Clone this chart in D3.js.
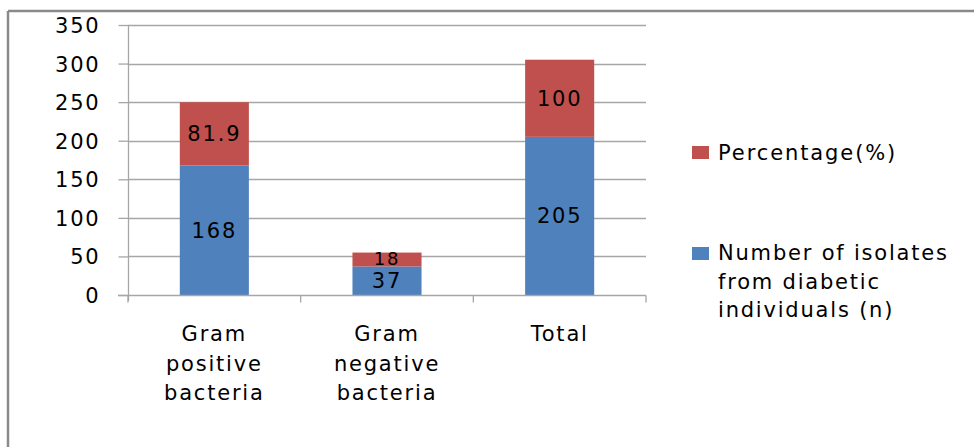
<!DOCTYPE html>
<html><head><meta charset="utf-8">
<script src="https://cdn.jsdelivr.net/npm/d3@7/dist/d3.min.js"></script>
<style>
html,body{margin:0;padding:0;background:#fff;}
svg text{font-family:"DejaVu Sans",sans-serif;fill:#000;}
</style></head>
<body>
<svg id="chart" width="974" height="447"></svg>
<script>
const categories = [["Gram","positive","bacteria"],["Gram","negative","bacteria"],["Total"]];
const numberIsolates = [168, 37, 205];
const percentage = [81.9, 18, 100];
const percentageLabels = ["81.9", "18", "100"];
const numberLabels = ["168", "37", "205"];
const yTicks = [0, 50, 100, 150, 200, 250, 300, 350];
const seriesNames = ["Percentage(%)", ["Number of isolates","from diabetic","individuals (n)"]];

(function(){
const svg = d3.select("#chart");
const pLeft = 128, pRight = 646, pTop = 25, pBottom = 295;
const x = d3.scaleBand().domain(d3.range(categories.length)).range([pLeft, pRight]).paddingInner(0.6).paddingOuter(0.3);
const y = d3.scaleLinear().domain([0, 350]).range([pBottom, pTop]);

// frame
svg.append("line").attr("x1",8).attr("x2",974).attr("y1",11).attr("y2",11).attr("stroke","#8a8a8a").attr("stroke-width",2.5);
svg.append("line").attr("x1",8).attr("x2",8).attr("y1",11).attr("y2",447).attr("stroke","#8a8a8a").attr("stroke-width",2.5);

// gridlines
svg.append("g").selectAll("line").data(yTicks.filter(d=>d>0)).join("line")
  .attr("x1",pLeft).attr("x2",pRight).attr("y1",d=>Math.round(y(d))+0.5).attr("y2",d=>Math.round(y(d))+0.5)
  .attr("stroke","#a6a6a6").attr("stroke-width",1.3);

// y axis
const yAxis = svg.append("g").attr("transform",`translate(${pLeft+0.5},0)`)
  .call(d3.axisLeft(y).tickValues(yTicks).tickSize(10).tickPadding(18).tickFormat(d3.format("d")));
yAxis.select(".domain").attr("stroke","#a6a6a6").attr("stroke-width",1.3).attr("d",`M0,${pTop}V${pBottom+6}`);
yAxis.selectAll(".tick line").attr("stroke","#a6a6a6").attr("stroke-width",1.3);
yAxis.selectAll(".tick text").attr("font-size",21).attr("letter-spacing","1.8px").attr("font-family","DejaVu Sans").attr("fill","#000").attr("dy","0.36em");

// bars
const g = svg.append("g");
g.selectAll("rect.num").data(numberIsolates).join("rect").attr("class","num")
  .attr("x",(d,i)=>x(i)).attr("width",x.bandwidth())
  .attr("y",d=>y(d)).attr("height",d=>y(0)-y(d)).attr("fill","#4F81BD");
g.selectAll("rect.pct").data(percentage).join("rect").attr("class","pct")
  .attr("x",(d,i)=>x(i)).attr("width",x.bandwidth())
  .attr("y",(d,i)=>y(numberIsolates[i]+d)).attr("height",(d,i)=>y(numberIsolates[i])-y(numberIsolates[i]+d)).attr("fill","#C0504D");

// x axis
const xAxisG = svg.append("g").attr("transform",`translate(0,${pBottom+0.5})`);
xAxisG.append("line").attr("x1",pLeft-10).attr("x2",pRight).attr("stroke","#a6a6a6").attr("stroke-width",1.3);
const step = (pRight - pLeft) / categories.length;
const tickPos = d3.range(categories.length+1).map(i => pLeft + i*step);
xAxisG.selectAll("line.t").data(tickPos).join("line").attr("class","t")
  .attr("x1",d=>d).attr("x2",d=>d).attr("y1",0).attr("y2",7).attr("stroke","#a6a6a6").attr("stroke-width",1.3);

// bar labels (slightly smaller where the segments are short)
const fs = h => h < 25 ? 18 : 21;
g.selectAll("text.nl").data(numberIsolates).join("text").attr("class","nl")
  .attr("x",(d,i)=>x(i)+x.bandwidth()/2).attr("y",d=>(y(0)+y(d))/2 + (y(0)-y(d) < 25 ? 1 : 0)).attr("dy","0.36em")
  .attr("text-anchor","middle").attr("font-size",d=>fs(y(0)-y(d))).attr("letter-spacing","1.8px")
  .text((d,i)=>numberLabels[i]);
g.selectAll("text.pl").data(percentage).join("text").attr("class","pl")
  .attr("x",(d,i)=>x(i)+x.bandwidth()/2)
  .attr("y",(d,i)=>{const h=y(numberIsolates[i])-y(numberIsolates[i]+d); return (y(numberIsolates[i])+y(numberIsolates[i]+d))/2 - (h<25?1:0);})
  .attr("dy","0.36em")
  .attr("text-anchor","middle").attr("font-size",(d,i)=>fs(y(numberIsolates[i])-y(numberIsolates[i]+d))).attr("letter-spacing","1.8px")
  .text((d,i)=>percentageLabels[i]);

// category labels
svg.append("g").selectAll("text").data(categories).join("text")
  .attr("x",(d,i)=>x(i)+x.bandwidth()/2).attr("y",341)
  .attr("text-anchor","middle").attr("font-size",21).attr("letter-spacing","1.8px")
  .each(function(lines){
    const t = d3.select(this);
    lines.forEach((l,k)=>t.append("tspan").attr("x",t.attr("x")).attr("dy",k===0?0:29.5).text(l));
  });

// legend
const leg = svg.append("g");
leg.append("rect").attr("x",692).attr("y",146).attr("width",17).attr("height",13).attr("fill","#C0504D");
leg.append("text").attr("x",718).attr("y",160).attr("font-size",21).attr("letter-spacing","1.9px").text(seriesNames[0]);
leg.append("rect").attr("x",692).attr("y",247).attr("width",17).attr("height",13).attr("fill","#4F81BD");
const lt = leg.append("text").attr("x",718).attr("y",260).attr("font-size",21).attr("letter-spacing","1.8px");
seriesNames[1].forEach((l,k)=>lt.append("tspan").attr("x",718).attr("dy",k===0?0:28.5).text(l));
})();
</script>
</body></html>
